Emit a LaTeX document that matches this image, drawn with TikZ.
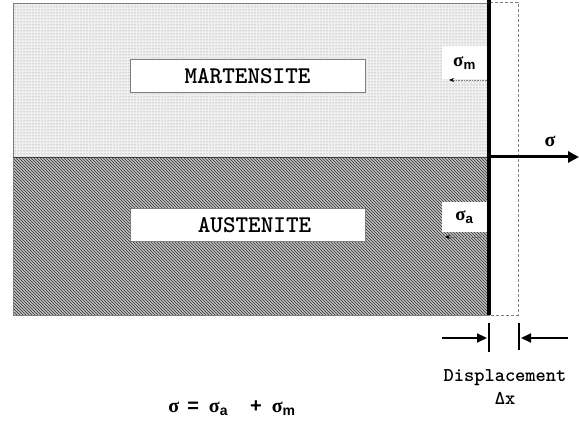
\documentclass[tikz,border=0pt]{standalone}
\usepackage{fontspec}
\newfontfamily\courfont{lmmonolt10-bold.otf}
\newfontfamily\grkfont{Liberation Serif}
\newfontfamily\subfont{Liberation Sans}
\usetikzlibrary{patterns,arrows.meta,positioning,calc}
\newcommand{\sig}[1]{{\grkfont\bfseries σ}\textsubscript{\subfont\bfseries #1}}
\tikzset{
  >=Triangle,
  phase/.style={draw=gray, line width=1pt, fill=white,
    minimum width=235pt, minimum height=33pt, inner sep=0pt,
    font=\courfont\fontsize{24}{24}\selectfont},
  stresslbl/.style={fill=white, minimum width=45pt, minimum height=33pt,
    inner sep=0pt, font=\fontsize{19}{19}\selectfont},
  pullback/.style={densely dotted, gray, line width=0.6pt,
    -{Stealth[black,length=5pt,width=4pt]}},
  gapbar/.style={line width=2pt},
  gaparrow/.style={line width=2.2pt, -{Triangle[length=10pt,width=9pt]}},
  monotxt/.style={inner sep=0pt, font=\courfont\fontsize{19.5}{19.5}\selectfont},
}
\begin{document}
\begin{tikzpicture}[x=1pt,y=-1pt]
\useasboundingbox (0,0) rectangle (579,427);

% the two phases
\fill[black!6] (13,3) rectangle (489,158);
\fill[pattern=dots, pattern color=gray] (13,3) rectangle (489,158);
\fill[gray!50] (13,158) rectangle (489,315);
\fill[pattern=north west lines, pattern color=black!80] (13,158) rectangle (489,315);
\draw[gray, line width=0.8pt] (13,3) rectangle (489,315);
\draw[black!75, line width=1pt] (13,158) -- (489,158);

\node[phase] (mart) at (247.5,76.5) {MARTENSITE};
\node[phase] (aust) at (247.5,225) {\hspace{14pt}AUSTENITE};

% moved wall and its old place
\coordinate (wallT) at (489,0);
\coordinate (wallB) at (489,315);
\draw[gray, dashed, dash pattern=on 3pt off 2pt, line width=0.8pt]
  (489,2) rectangle (518,315);
\draw[line width=4.5pt] (wallT) -- (wallB);

% applied stress
\coordinate (sigS) at (489,157);
\coordinate (sigE) at (579,157);
\draw[line width=3pt, -{Triangle[length=11pt,width=11pt]}] (sigS) -- (sigE);
\node[font=\grkfont\bfseries\fontsize{20}{20}\selectfont] (sig) at (550,141) {σ};

% phase stresses
\node[stresslbl] (sm) at (464.5,63) {\sig{m}};
\coordinate (smS) at (487,80);
\coordinate (smE) at (449,80);
\draw[pullback] (smS) -- (smE);

\node[stresslbl, minimum height=30pt] (sa) at (464.5,217) {\sig{a}};
\coordinate (saS) at (487,237);
\coordinate (saE) at (445,237);
\draw[pullback] (saS) -- (saE);

% displacement
\coordinate (b1T) at (489,323);
\coordinate (b1B) at (489,352);
\coordinate (b2T) at (519,323);
\coordinate (b2B) at (519,350);
\draw[gapbar] (b1T) -- (b1B);
\draw[gapbar] (b2T) -- (b2B);
\coordinate (l1) at (442,338);
\coordinate (l2) at (487,338);
\coordinate (r1) at (568,338);
\coordinate (r2) at (521,338);
\draw[gaparrow] (l1) -- (l2);
\draw[gaparrow] (r1) -- (r2);

\node[monotxt] (disp) at (505,378) {Displacement};
\node[monotxt, below=6pt of disp] (dx) {Δx};

% total stress
\node[font=\fontsize{20}{20}\selectfont] (sum) at (232,408)
  {{\grkfont\bfseries σ}\hspace{8pt}{\subfont\bfseries =}\hspace{10pt}\sig{a}\hspace{22pt}{\subfont\bfseries +}\hspace{10pt}\sig{m}};
\end{tikzpicture}
\end{document}
